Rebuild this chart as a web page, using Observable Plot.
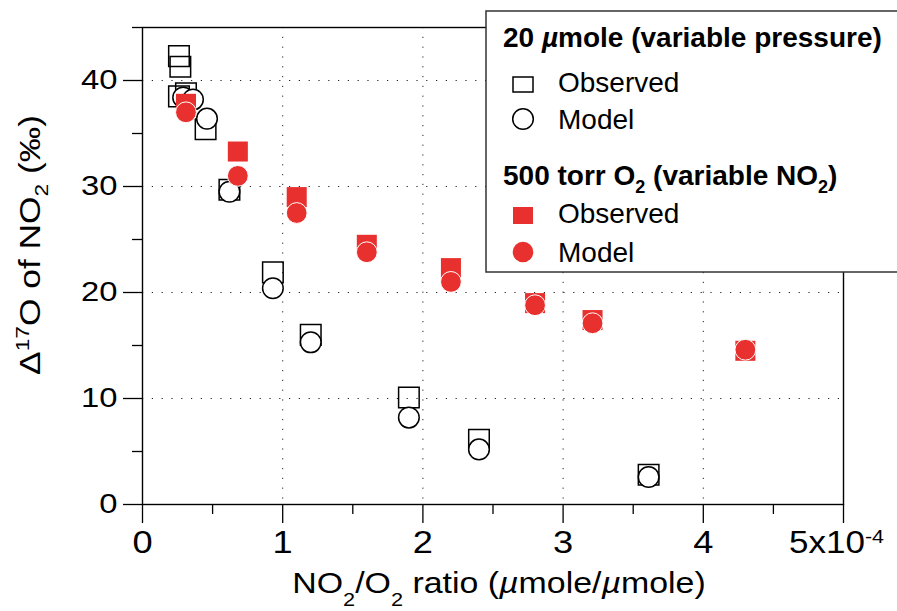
<!DOCTYPE html>
<html><head><meta charset="utf-8">
<script src="https://cdn.jsdelivr.net/npm/d3@7"></script>
<script src="https://cdn.jsdelivr.net/npm/@observablehq/plot@0.6"></script>
<style>
html,body{margin:0;padding:0;background:#fff;}
#chart svg{display:block;}
</style>
</head><body><div id="chart"></div>
<script>
// NO2/O2 ratio values are in units of 1e-4 (µmole/µmole); Δ17O in ‰
// 20 µmole (variable pressure)
const obs20X = [0.26, 0.27, 0.26, 0.31, 0.45, 0.62, 0.93, 1.20, 1.90, 2.40, 3.61];
const obs20Y = [42.3, 41.3, 38.5, 38.8, 35.4, 29.7, 21.9, 16.0, 10.1, 6.1, 2.8];
const mod20X = [0.29, 0.36, 0.46, 0.62, 0.93, 1.20, 1.90, 2.40, 3.61];
const mod20Y = [38.4, 38.2, 36.4, 29.5, 20.4, 15.3, 8.2, 5.2, 2.6];
// 500 torr O2 (variable NO2)
const obs500X = [0.31, 0.68, 1.10, 1.60, 2.20, 2.80, 3.21, 4.30];
const obs500Y = [37.8, 33.3, 29.0, 24.5, 22.3, 19.0, 17.4, 14.5];
const mod500X = [0.31, 0.68, 1.10, 1.60, 2.20, 2.80, 3.21, 4.30];
const mod500Y = [37.0, 31.0, 27.5, 23.8, 21.0, 18.8, 17.1, 14.6];

const xTicks = [0, 1, 2, 3, 4, 5];
const xTickLabels = ["0", "1", "2", "3", "4", "5x10"];
const xTickExponent = "-4";
const xMinorTicks = [0.5, 1.5, 2.5, 3.5, 4.5];
const yTicks = [0, 10, 20, 30, 40];
const yMinorTicks = [5, 15, 25, 35, 45];
const xGrid = [1, 2, 3, 4];
const yGrid = [10, 20, 30, 40];

const seriesNames = ["Observed", "Model"];

const red = "#e8312f";
const rows = (xs, ys) => xs.map((x, i) => ({x, y: ys[i]}));

const plot = Plot.plot({
  width: 897, height: 611,
  marginTop: 27, marginRight: 54, marginBottom: 107, marginLeft: 142,
  style: {fontFamily: "'Liberation Sans', Arial, sans-serif", background: "white", color: "black"},
  x: {domain: [0, 5], label: null},
  y: {domain: [0, 45], label: null},
  marks: [
    Plot.gridX(xGrid, {stroke: "#222", strokeOpacity: 1, strokeWidth: 1, strokeDasharray: "1.2,8.6"}),
    Plot.gridY(yGrid, {stroke: "#222", strokeOpacity: 1, strokeWidth: 1, strokeDasharray: "1.2,8.6"}),
    Plot.frame({stroke: "black", strokeWidth: 1.4}),
    Plot.axisX(xTicks, {tickSize: 19, tickPadding: 7, fontSize: 31, strokeWidth: 1.3, label: null,
      tickFormat: d => xTickLabels[xTicks.indexOf(d)]}),
    Plot.axisX(xMinorTicks, {tickSize: 10, strokeWidth: 1.3, label: null, tickFormat: () => ""}),
    Plot.axisY(yTicks, {tickSize: 19, tickPadding: 6, fontSize: 28, strokeWidth: 1.3, label: null}),
    Plot.axisY(yMinorTicks, {tickSize: 10, strokeWidth: 1.3, label: null, tickFormat: () => ""}),
    Plot.dot(rows(obs20X, obs20Y), {x: "x", y: "y", symbol: "square", r: 11.6, fill: "none", stroke: "black", strokeWidth: 1.5}),
    Plot.dot(rows(mod20X, mod20Y), {x: "x", y: "y", symbol: "circle", r: 10.3, fill: "white", stroke: "black", strokeWidth: 1.5}),
    Plot.dot(rows(obs500X, obs500Y), {x: "x", y: "y", symbol: "square", r: 11.3, fill: red, stroke: "none"}),
    Plot.dot(rows(mod500X, mod500Y), {x: "x", y: "y", symbol: "circle", r: 10.4, fill: red, stroke: "white", strokeWidth: 1})
  ]
});
document.getElementById("chart").appendChild(plot);

const svg = d3.select(plot);
const font = "'Liberation Sans', Arial, sans-serif";

// stretch tick labels horizontally like the original
svg.selectAll("text").each(function() {
  const t = d3.select(this);
  const tr = t.attr("transform") || "";
  const txt = t.text();
  if (txt === "5x10") {
    t.append("tspan").attr("font-size", 19).attr("dy", "-0.5em").text(xTickExponent);
    t.attr("transform", tr + " translate(-7,0) scale(1.13,1)");
  } else {
    t.attr("transform", tr + " scale(1.17,1)");
  }
});

function rich(sel, segs, base) {
  segs.forEach(s => {
    const ts = sel.append("tspan").text(s.t);
    if (s.it) ts.attr("font-style", "italic");
    if (s.sub) ts.attr("font-size", s.size || base * 0.64).attr("dy", s.sub);
    if (s.dy) ts.attr("dy", s.dy);
  });
}

// x-axis title
const xt = svg.append("text")
  .attr("transform", "translate(499,593) scale(1.13,1)")
  .attr("text-anchor", "middle").attr("font-family", font).attr("font-size", 30).attr("fill", "black");
rich(xt, [
  {t: "NO"}, {t: "2", sub: 13}, {t: "/O", dy: -13}, {t: "2", sub: 13},
  {t: " ratio (", dy: -13}, {t: "µ", it: true}, {t: "mole/"}, {t: "µ", it: true}, {t: "mole)"}
], 30);

// y-axis title
const yt = svg.append("text")
  .attr("transform", "translate(40,245) rotate(-90) scale(1.22,1)")
  .attr("text-anchor", "middle").attr("font-family", font).attr("font-size", 29).attr("fill", "black");
rich(yt, [
  {t: "Δ"}, {t: "17", sub: -11}, {t: "O of NO", dy: 11}, {t: "2", sub: 8}, {t: " (‰)", dy: -8}
], 29);

// legend
const lg = svg.append("g").attr("font-family", font).attr("fill", "black").attr("text-anchor", "start");
lg.append("rect").attr("x", 486).attr("y", 11).attr("width", 440).attr("height", 261)
  .attr("fill", "white").attr("stroke", "#333").attr("stroke-width", 1.5);
const t1 = lg.append("text").attr("x", 503).attr("y", 47).attr("font-size", 28).attr("font-weight", "bold");
rich(t1, [{t: "20 "}, {t: "µ", it: true}, {t: "mole (variable pressure)"}], 28);
lg.append("rect").attr("x", 513).attr("y", 77).attr("width", 20).attr("height", 15)
  .attr("fill", "none").attr("stroke", "black").attr("stroke-width", 1.5);
lg.append("text").attr("x", 558).attr("y", 92).attr("font-size", 28).text(seriesNames[0]);
lg.append("circle").attr("cx", 523).attr("cy", 119).attr("r", 10.3)
  .attr("fill", "white").attr("stroke", "black").attr("stroke-width", 1.5);
lg.append("text").attr("x", 558).attr("y", 129).attr("font-size", 28).text(seriesNames[1]);
const t2 = lg.append("text").attr("x", 503).attr("y", 185).attr("font-size", 28).attr("font-weight", "bold");
rich(t2, [{t: "500 torr O"}, {t: "2", sub: 8, size: 18}, {t: " (variable NO", dy: -8}, {t: "2", sub: 8, size: 18}, {t: ")", dy: -8}], 28);
lg.append("rect").attr("x", 513).attr("y", 207).attr("width", 20).attr("height", 17).attr("fill", red);
lg.append("text").attr("x", 558).attr("y", 223).attr("font-size", 28).text(seriesNames[0]);
lg.append("circle").attr("cx", 523).attr("cy", 252).attr("r", 10.3).attr("fill", red);
lg.append("text").attr("x", 558).attr("y", 262).attr("font-size", 28).text(seriesNames[1]);
</script>
</body></html>
